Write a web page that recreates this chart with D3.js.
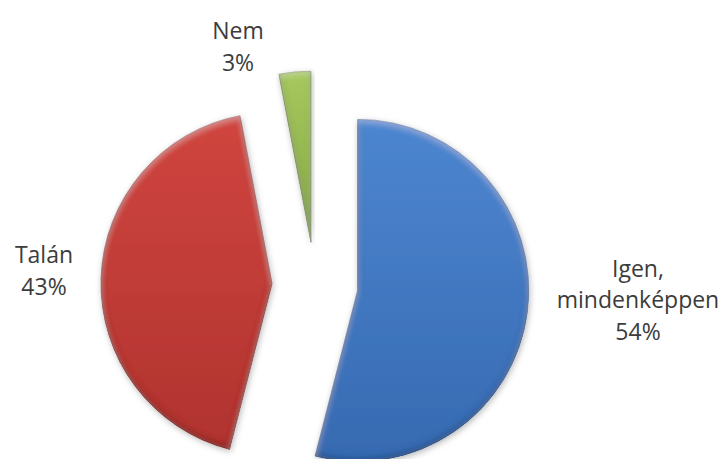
<!DOCTYPE html>
<html>
<head>
<meta charset="utf-8">
<script src="https://cdn.jsdelivr.net/npm/d3@7"></script>
<style>
  html, body { margin: 0; padding: 0; background: #fff; }
  svg { display: block; }
  text { font-family: "Open Sans", sans-serif; fill: #3c3c3c; }
</style>
</head>
<body>
<svg id="chart" width="721" height="459"></svg>
<script>
// ---- data ----
const categories = ["Igen, mindenképpen", "Talán", "Nem"];
const values = [54, 43, 3];
const labelLines = [["Igen,", "mindenképpen", "54%"], ["Talán", "43%"], ["Nem", "3%"]];

// ---- style / layout ----
const colorsTop = ["#4d86d0", "#d0453f", "#a6c85d"];
const colorsBot = ["#366ab1", "#b0332f", "#84a743"];
const edgeCol = ["#244d85", "#7a1f1d", "#5f7b2c"];
const cx = 315, cy = 285, R = 171, explode = 43;
const labelAnchors = [[638, 300], [44, 271], [238, 47]];
const lineH = 31.5, fontSize = 23;

const svg = d3.select("#chart");
const defs = svg.append("defs");

categories.forEach((c, i) => {
  const g = defs.append("linearGradient").attr("id", "grad" + i)
    .attr("x1", 0).attr("y1", 0).attr("x2", 0).attr("y2", 1);
  g.append("stop").attr("offset", "0%").attr("stop-color", colorsTop[i]);
  g.append("stop").attr("offset", "100%").attr("stop-color", colorsBot[i]);
});

// bevel + drop shadow filter
const f = defs.append("filter").attr("id", "bevel")
  .attr("x", "-10%").attr("y", "-10%").attr("width", "120%").attr("height", "120%");
f.append("feGaussianBlur").attr("in", "SourceAlpha").attr("stdDeviation", 3).attr("result", "blur");
f.append("feOffset").attr("in", "blur").attr("dx", 1).attr("dy", 2).attr("result", "dsOff");
f.append("feFlood").attr("flood-color", "#000").attr("flood-opacity", 0.28).attr("result", "dsCol");
f.append("feComposite").attr("in", "dsCol").attr("in2", "dsOff").attr("operator", "in").attr("result", "dropShadow");
f.append("feOffset").attr("in", "blur").attr("dx", 0).attr("dy", -3).attr("result", "offUp");
f.append("feComposite").attr("in", "SourceAlpha").attr("in2", "offUp").attr("operator", "arithmetic")
  .attr("k1", 0).attr("k2", 1).attr("k3", -1).attr("k4", 0).attr("result", "innerDarkMask");
f.append("feFlood").attr("flood-color", "#000").attr("flood-opacity", 0.5).attr("result", "darkCol");
f.append("feComposite").attr("in", "darkCol").attr("in2", "innerDarkMask").attr("operator", "in").attr("result", "innerDark");
f.append("feOffset").attr("in", "blur").attr("dx", 0).attr("dy", 3).attr("result", "offDown");
f.append("feComposite").attr("in", "SourceAlpha").attr("in2", "offDown").attr("operator", "arithmetic")
  .attr("k1", 0).attr("k2", 1).attr("k3", -1).attr("k4", 0).attr("result", "innerLightMask");
f.append("feFlood").attr("flood-color", "#fff").attr("flood-opacity", 0.25).attr("result", "lightCol");
f.append("feComposite").attr("in", "lightCol").attr("in2", "innerLightMask").attr("operator", "in").attr("result", "innerLight");
const m = f.append("feMerge");
m.append("feMergeNode").attr("in", "dropShadow");
m.append("feMergeNode").attr("in", "SourceGraphic");
m.append("feMergeNode").attr("in", "innerDark");
m.append("feMergeNode").attr("in", "innerLight");

const pie = d3.pie().sort(null).value(d => d)(values);
const arc = d3.arc().innerRadius(0).outerRadius(R);

const g = svg.append("g").attr("transform", `translate(${cx},${cy})`);
g.selectAll("path.slice").data(pie).enter().append("path")
  .attr("class", "slice")
  .attr("transform", d => {
    const a = (d.startAngle + d.endAngle) / 2;
    return `translate(${Math.sin(a) * explode},${-Math.cos(a) * explode})`;
  })
  .attr("d", arc)
  .attr("fill", (d, i) => `url(#grad${i})`)
  .attr("stroke", (d, i) => edgeCol[i])
  .attr("stroke-width", 0.8)
  .attr("stroke-opacity", 0.7)
  .attr("filter", "url(#bevel)");

// labels
labelLines.forEach((lines, i) => {
  const [lx, ly] = labelAnchors[i];
  const n = lines.length;
  const t = svg.append("text").attr("text-anchor", "middle").attr("font-size", fontSize);
  lines.forEach((s, k) => {
    t.append("tspan").attr("x", lx)
      .attr("y", ly + (k - (n - 1) / 2) * lineH + fontSize * 0.35)
      .text(s);
  });
});
</script>
</body>
</html>
